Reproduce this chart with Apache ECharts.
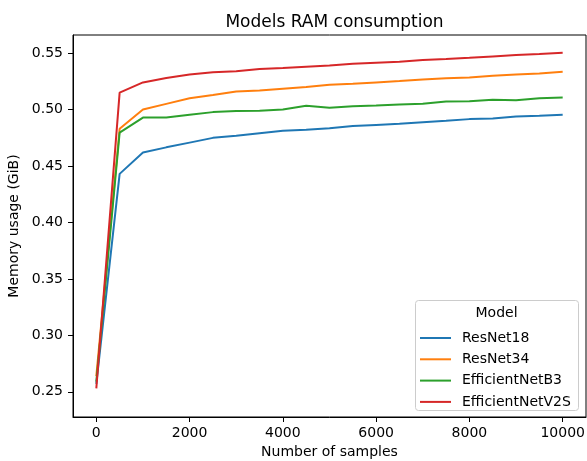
<!DOCTYPE html>
<html>
<head>
<meta charset="utf-8">
<script src="https://cdn.jsdelivr.net/npm/echarts@6/dist/echarts.min.js"></script>
<style>html,body{margin:0;padding:0;background:#fff}#c{width:587px;height:461px}</style>
</head>
<body>
<div id="c"></div>
<script>
var samples = [0,500,1000,1500,2000,2500,3000,3500,4000,4500,5000,5500,6000,6500,7000,7500,8000,8500,9000,9500,10000];
var resnet18 = [0.257,0.443,0.462,0.4665,0.4707,0.4749,0.4767,0.479,0.4811,0.482,0.4835,0.4855,0.4864,0.4873,0.4888,0.490,0.4915,0.492,0.4938,0.4944,0.4953];
var resnet34 = [0.264,0.483,0.500,0.505,0.510,0.5128,0.516,0.5168,0.5184,0.5199,0.5219,0.5228,0.524,0.5252,0.5266,0.5278,0.5284,0.530,0.531,0.532,0.5334];
var effb3 = [0.259,0.4796,0.4929,0.4929,0.4953,0.4977,0.4986,0.4989,0.500,0.5033,0.5015,0.503,0.5036,0.5045,0.5051,0.5071,0.5074,0.5086,0.5083,0.510,0.5106];
var effv2s = [0.253,0.515,0.524,0.528,0.531,0.533,0.534,0.5358,0.5367,0.5379,0.539,0.5405,0.5414,0.5423,0.5438,0.5447,0.5458,0.547,0.5482,0.5491,0.5503];
var seriesNames = ['ResNet18','ResNet34','EfficientNetB3','EfficientNetV2S'];
var seriesValues = [resnet18, resnet34, effb3, effv2s];
var colors = ['#1f77b4','#ff7f0e','#2ca02c','#d62728'];
var xTicks = [0,2000,4000,6000,8000,10000];
var yTicks = [0.25,0.30,0.35,0.40,0.45,0.50,0.55];

var font = 'DejaVu Sans';
var chart = echarts.init(document.getElementById('c'), null, {renderer:'canvas'});
var series = seriesNames.map(function(n, i){
  return {
    name: n, type: 'line', showSymbol: false, symbol: 'none',
    lineStyle: {width: 2, color: colors[i]}, itemStyle: {color: colors[i]},
    data: samples.map(function(x, j){ return [x, seriesValues[i][j]]; }),
    z: 2, animation: false
  };
});
chart.setOption({
  animation: false,
  title: {text: 'Models RAM consumption', left: 329.5, textAlign: 'center', top: 9,
    textStyle: {fontFamily: font, fontSize: 17, fontWeight: 'normal', color: '#000'}},
  grid: {left: 73, right: 1, top: 35, bottom: 44, show: true, borderColor: '#000', borderWidth: 1,
    containLabel: false, outerBoundsMode: 'none'},
  xAxis: {
    type: 'value', min: -500, max: 10500,
    name: 'Number of samples', nameLocation: 'middle', nameGap: 28,
    nameTextStyle: {fontFamily: font, fontSize: 14, color: '#000'},
    axisLine: {show: true, onZero: false, lineStyle: {color: '#000', width: 1}},
    axisTick: {show: true, length: 5, lineStyle: {color: '#000'}, customValues: xTicks},
    axisLabel: {fontFamily: font, fontSize: 14, color: '#000', margin: 9, customValues: xTicks,
      formatter: function(v){ return String(v); }},
    splitLine: {show: false}
  },
  yAxis: {
    type: 'value', min: 0.2277, max: 0.566,
    name: 'Memory usage (GiB)', nameLocation: 'middle', nameGap: 44,
    nameTextStyle: {fontFamily: font, fontSize: 14, color: '#000'},
    axisLine: {show: true, onZero: false, lineStyle: {color: '#000', width: 1}},
    axisTick: {show: true, length: 5, lineStyle: {color: '#000'}, customValues: yTicks},
    axisLabel: {fontFamily: font, fontSize: 14, color: '#000', margin: 10, customValues: yTicks,
      formatter: function(v){ return v.toFixed(2); }},
    splitLine: {show: false}
  },
  legend: {
    orient: 'vertical', left: 415, top: 326, icon: 'rect', itemWidth: 31, itemHeight: 2,
    itemGap: 7.3, data: seriesNames, z: 20,
    textStyle: {fontFamily: font, fontSize: 14, color: '#000', padding: [0,0,0,6]}
  },
  graphic: [
    {type: 'rect', shape: {x: 415.5, y: 300.5, width: 163, height: 110, r: 3},
      style: {fill: 'rgba(255,255,255,0.85)', stroke: '#cccccc', lineWidth: 1}, z: 5},
    {type: 'text', x: 496.5, y: 313, style: {text: 'Model', fontFamily: font, fontSize: 14, fill: '#000',
      textAlign: 'center', textVerticalAlign: 'middle'}, z: 6}
  ],
  series: series
});
</script>
</body>
</html>
